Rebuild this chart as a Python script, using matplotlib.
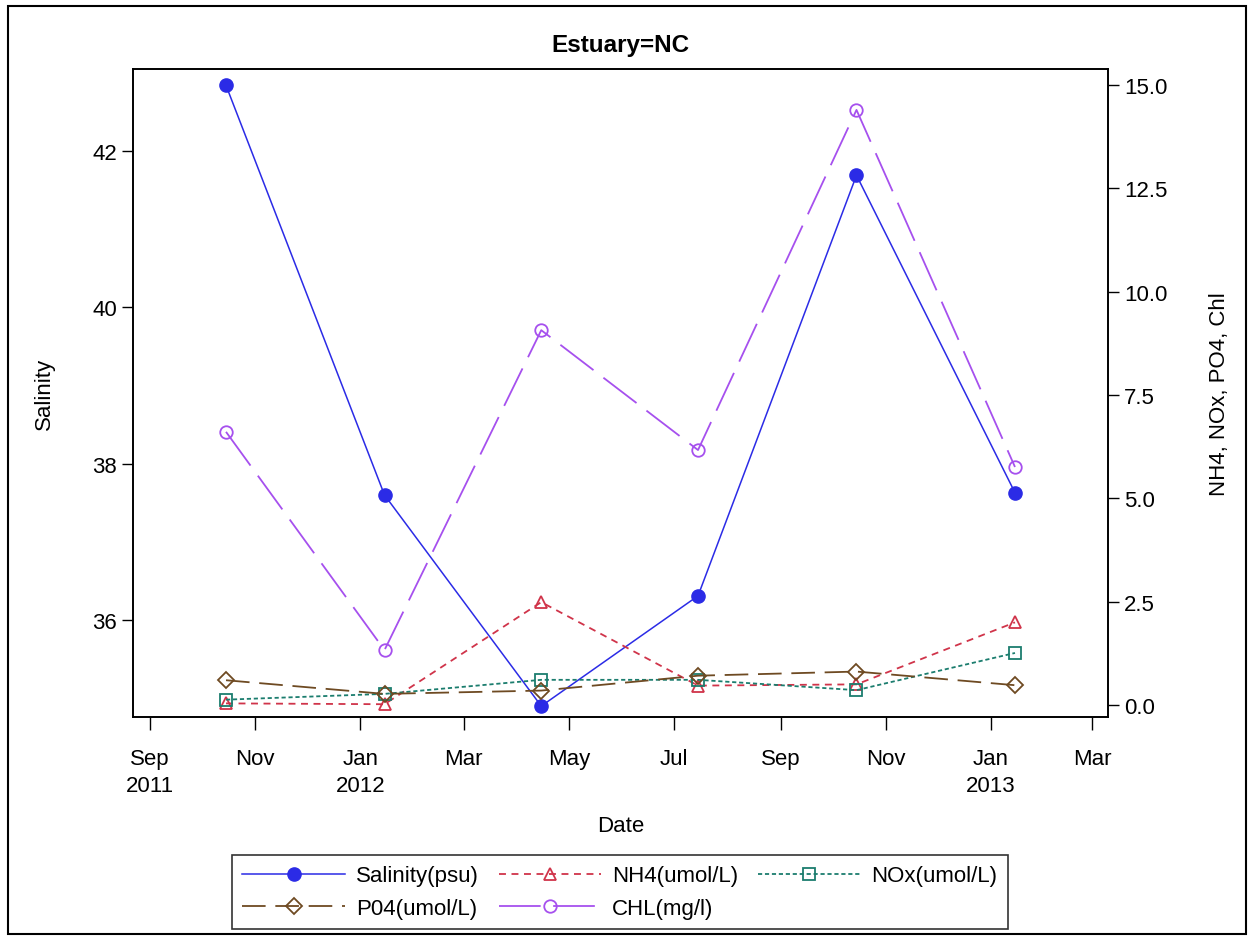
import datetime as dt

import numpy as np
import matplotlib
matplotlib.use('Agg')
import matplotlib.pyplot as plt
import matplotlib.dates as mdates
from matplotlib.patches import Rectangle

plt.rcParams['font.family'] = ['Liberation Sans', 'DejaVu Sans']
plt.rcParams['lines.scale_dashes'] = False

######################## Data ############################
dates = [dt.date(2011, 10, 15), dt.date(2012, 1, 15), dt.date(2012, 4, 15),
         dt.date(2012, 7, 15), dt.date(2012, 10, 15), dt.date(2013, 1, 15)]
salinity = [42.84, 37.60, 34.90, 36.31, 41.69, 37.63]
nh4 = [0.04, 0.02, 2.49, 0.47, 0.50, 2.00]
nox = [0.13, 0.27, 0.61, 0.61, 0.36, 1.26]
po4 = [0.60, 0.27, 0.35, 0.71, 0.81, 0.48]
chl = [6.61, 1.33, 9.07, 6.17, 14.40, 5.76]

tick_dates = [dt.date(2011, 9, 1), dt.date(2011, 11, 1), dt.date(2012, 1, 1),
              dt.date(2012, 3, 1), dt.date(2012, 5, 1), dt.date(2012, 7, 1),
              dt.date(2012, 9, 1), dt.date(2012, 11, 1), dt.date(2013, 1, 1),
              dt.date(2013, 3, 1)]
tick_labels = ['Sep\n2011', 'Nov', 'Jan\n2012', 'Mar', 'May', 'Jul',
               'Sep', 'Nov', 'Jan\n2013', 'Mar']

######################## Styles ############################
c_sal = '#2b2be6'
c_nh4 = '#d0344a'
c_nox = '#1b7d6e'
c_po4 = '#6e4a22'
c_chl = '#a650ee'
fs = 16

fig = plt.figure(figsize=(12.5, 9.37), dpi=100)
ax = fig.add_axes([0.1064, 0.2337, 0.78, 0.6916])
ax2 = ax.twinx()

x = mdates.date2num(dates)

l_sal, = ax.plot(x, salinity, color=c_sal, lw=1.1, marker='o', ms=9.5,
                 mfc=c_sal, mec=c_sal, label='Salinity(psu)')
l_nh4, = ax2.plot(x, nh4, color=c_nh4, lw=1.3, ls=(0, (5, 4)), marker='^',
                  ms=9, mfc='none', mec=c_nh4, mew=1.3, label='NH4(umol/L)')
l_nox, = ax2.plot(x, nox, color=c_nox, lw=1.3, ls=(0, (3, 2)), marker='s',
                  ms=8.5, mfc='none', mec=c_nox, mew=1.3, label='NOx(umol/L)')
l_po4, = ax2.plot(x, po4, color=c_po4, lw=1.3, ls=(0, (17, 7)), marker='D',
                  ms=8.5, mfc='none', mec=c_po4, mew=1.3, label='P04(umol/L)')
l_chl, = ax2.plot(x, chl, color=c_chl, lw=1.3, ls=(0, (30, 9)), marker='o',
                  ms=9, mfc='none', mec=c_chl, mew=1.3, label='CHL(mg/l)')

ax.set_xlim(mdates.date2num(dt.date(2011, 8, 22)), mdates.date2num(dt.date(2013, 3, 10)))
ax.set_ylim(34.76, 43.05)
ax2.set_ylim(-0.29, 15.39)

ax.set_xticks(mdates.date2num(tick_dates))
ax.set_xticklabels(tick_labels, fontsize=fs, linespacing=1.4)
ax.set_yticks([36, 38, 40, 42])
ax.tick_params(axis='y', labelsize=fs, length=8, width=1, direction='out')
ax.tick_params(axis='x', length=9, width=1, pad=13)
ax2.set_yticks([0, 2.5, 5, 7.5, 10, 12.5, 15])
ax2.set_yticklabels(['0.0', '2.5', '5.0', '7.5', '10.0', '12.5', '15.0'])
ax2.tick_params(axis='y', labelsize=fs, length=8, width=1)

for a in (ax, ax2):
    for s in a.spines.values():
        s.set_linewidth(1.2)

ax.set_xlabel('Date', fontsize=fs, labelpad=14)
ax.set_ylabel('Salinity', fontsize=fs, labelpad=27)
ax2.set_ylabel('NH4, NOx, PO4, Chl', fontsize=fs, labelpad=30)
ax.set_title('Estuary=NC', fontsize=17.5, fontweight='bold', pad=13)

handles = [l_sal, l_po4, l_nh4, l_chl, l_nox]
leg = fig.legend(handles=handles, loc='center', bbox_to_anchor=(0.496, 0.047),
                 ncol=3, fontsize=fs, frameon=True, fancybox=False,
                 edgecolor='black', handlelength=4.6, columnspacing=0.9,
                 handletextpad=0.5, borderpad=0.45, labelspacing=0.5)
leg.get_frame().set_linewidth(1.2)

fig.patches.append(Rectangle((8 / 1250, 2 / 937), 1238 / 1250, 928 / 937,
                             transform=fig.transFigure, fill=False,
                             edgecolor='black', lw=1.5))

fig.savefig('out.png', dpi=100)
